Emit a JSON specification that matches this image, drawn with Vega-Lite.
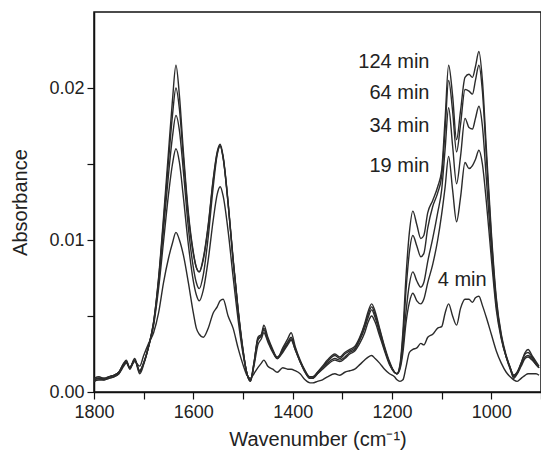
{
  "$schema": "https://vega.github.io/schema/vega-lite/v6.json",
  "width": 447,
  "height": 380,
  "autosize": "none",
  "padding": {"left": 94, "top": 12, "right": 0, "bottom": 60},
  "background": "white",
  "config": {
    "view": {"stroke": "#111", "strokeWidth": 1.5},
    "axis": {
      "grid": false,
      "labelFlush": false,
      "labelOverlap": false,
      "labelFont": "Liberation Sans",
      "titleFont": "Liberation Sans",
      "labelFontSize": 18,
      "titleFontSize": 20,
      "titleFontWeight": "normal",
      "labelColor": "#222",
      "titleColor": "#222",
      "domainColor": "#111",
      "domainWidth": 1.5,
      "tickColor": "#111",
      "tickWidth": 1.2,
      "tickSize": 7
    }
  },
  "resolve": {"axis": {"x": "independent", "y": "independent"}},
  "layer": [
    {
      "data": {
        "values": [
          {"wn":1800,"t124":0.0008,"t64":0.0007,"t34":0.0009,"t19":0.0008,"t4":0.0007},
          {"wn":1790,"t124":0.0009,"t64":0.0008,"t34":0.0010,"t19":0.0009,"t4":0.0008},
          {"wn":1780,"t124":0.0008,"t64":0.0008,"t34":0.0009,"t19":0.0009,"t4":0.0008},
          {"wn":1770,"t124":0.0010,"t64":0.0009,"t34":0.0010,"t19":0.0010,"t4":0.0009},
          {"wn":1760,"t124":0.0011,"t64":0.0010,"t34":0.0011,"t19":0.0011,"t4":0.0010},
          {"wn":1750,"t124":0.0013,"t64":0.0012,"t34":0.0013,"t19":0.0013,"t4":0.0012},
          {"wn":1740,"t124":0.0019,"t64":0.0018,"t34":0.0019,"t19":0.0018,"t4":0.0017},
          {"wn":1735,"t124":0.0021,"t64":0.0020,"t34":0.0020,"t19":0.0020,"t4":0.0019},
          {"wn":1728,"t124":0.0016,"t64":0.0015,"t34":0.0016,"t19":0.0016,"t4":0.0016},
          {"wn":1718,"t124":0.0022,"t64":0.0021,"t34":0.0021,"t19":0.0021,"t4":0.0020},
          {"wn":1708,"t124":0.0013,"t64":0.0012,"t34":0.0014,"t19":0.0014,"t4":0.0017},
          {"wn":1700,"t124":0.0019,"t64":0.0018,"t34":0.0019,"t19":0.0019,"t4":0.0024},
          {"wn":1690,"t124":0.0030,"t64":0.0030,"t34":0.0030,"t19":0.0030,"t4":0.0032},
          {"wn":1680,"t124":0.0046,"t64":0.0046,"t34":0.0045,"t19":0.0044,"t4":0.0039},
          {"wn":1670,"t124":0.0075,"t64":0.0074,"t34":0.0072,"t19":0.0068,"t4":0.0052},
          {"wn":1660,"t124":0.0115,"t64":0.0112,"t34":0.0107,"t19":0.0099,"t4":0.0072},
          {"wn":1650,"t124":0.0158,"t64":0.0152,"t34":0.0143,"t19":0.0130,"t4":0.0088},
          {"wn":1642,"t124":0.0192,"t64":0.0182,"t34":0.0168,"t19":0.0150,"t4":0.0098},
          {"wn":1635,"t124":0.0215,"t64":0.0200,"t34":0.0182,"t19":0.0160,"t4":0.0105},
          {"wn":1628,"t124":0.0195,"t64":0.0186,"t34":0.0172,"t19":0.0151,"t4":0.0100},
          {"wn":1620,"t124":0.0158,"t64":0.0154,"t34":0.0145,"t19":0.0128,"t4":0.0090},
          {"wn":1610,"t124":0.0118,"t64":0.0116,"t34":0.0108,"t19":0.0097,"t4":0.0072},
          {"wn":1600,"t124":0.0092,"t64":0.0091,"t34":0.0082,"t19":0.0073,"t4":0.0052},
          {"wn":1594,"t124":0.0082,"t64":0.0082,"t34":0.0072,"t19":0.0064,"t4":0.0042},
          {"wn":1588,"t124":0.0079,"t64":0.0079,"t34":0.0068,"t19":0.0060,"t4":0.0038},
          {"wn":1580,"t124":0.0088,"t64":0.0087,"t34":0.0077,"t19":0.0067,"t4":0.0036},
          {"wn":1570,"t124":0.0110,"t64":0.0109,"t34":0.0102,"t19":0.0087,"t4":0.0042},
          {"wn":1560,"t124":0.0140,"t64":0.0139,"t34":0.0135,"t19":0.0113,"t4":0.0052},
          {"wn":1552,"t124":0.0158,"t64":0.0157,"t34":0.0156,"t19":0.0130,"t4":0.0056},
          {"wn":1546,"t124":0.0163,"t64":0.0162,"t34":0.0162,"t19":0.0135,"t4":0.0060},
          {"wn":1540,"t124":0.0155,"t64":0.0154,"t34":0.0154,"t19":0.0129,"t4":0.0061},
          {"wn":1530,"t124":0.0125,"t64":0.0124,"t34":0.0124,"t19":0.0106,"t4":0.0050},
          {"wn":1520,"t124":0.0088,"t64":0.0087,"t34":0.0087,"t19":0.0076,"t4":0.0042},
          {"wn":1510,"t124":0.0055,"t64":0.0054,"t34":0.0054,"t19":0.0048,"t4":0.0029},
          {"wn":1500,"t124":0.0028,"t64":0.0027,"t34":0.0027,"t19":0.0025,"t4":0.0018},
          {"wn":1492,"t124":0.0012,"t64":0.0012,"t34":0.0012,"t19":0.0012,"t4":0.0011},
          {"wn":1485,"t124":0.0007,"t64":0.0007,"t34":0.0008,"t19":0.0008,"t4":0.0009},
          {"wn":1478,"t124":0.0018,"t64":0.0019,"t34":0.0019,"t19":0.0017,"t4":0.0012},
          {"wn":1470,"t124":0.0036,"t64":0.0035,"t34":0.0034,"t19":0.0031,"t4":0.0016},
          {"wn":1463,"t124":0.0038,"t64":0.0037,"t34":0.0037,"t19":0.0035,"t4":0.0019},
          {"wn":1458,"t124":0.0044,"t64":0.0042,"t34":0.0041,"t19":0.0039,"t4":0.0021},
          {"wn":1450,"t124":0.0036,"t64":0.0035,"t34":0.0034,"t19":0.0033,"t4":0.0017},
          {"wn":1440,"t124":0.0028,"t64":0.0027,"t34":0.0027,"t19":0.0026,"t4":0.0015},
          {"wn":1431,"t124":0.0022,"t64":0.0022,"t34":0.0023,"t19":0.0022,"t4":0.0013},
          {"wn":1420,"t124":0.0029,"t64":0.0028,"t34":0.0027,"t19":0.0026,"t4":0.0016},
          {"wn":1410,"t124":0.0035,"t64":0.0033,"t34":0.0032,"t19":0.0031,"t4":0.0015},
          {"wn":1403,"t124":0.0039,"t64":0.0036,"t34":0.0035,"t19":0.0034,"t4":0.0015},
          {"wn":1395,"t124":0.0030,"t64":0.0029,"t34":0.0028,"t19":0.0028,"t4":0.0014},
          {"wn":1385,"t124":0.0021,"t64":0.0020,"t34":0.0020,"t19":0.0020,"t4":0.0012},
          {"wn":1375,"t124":0.0014,"t64":0.0013,"t34":0.0014,"t19":0.0013,"t4":0.0008},
          {"wn":1365,"t124":0.0009,"t64":0.0009,"t34":0.0010,"t19":0.0009,"t4":0.0006},
          {"wn":1360,"t124":0.0009,"t64":0.0009,"t34":0.0010,"t19":0.0009,"t4":0.0006},
          {"wn":1350,"t124":0.0013,"t64":0.0012,"t34":0.0013,"t19":0.0012,"t4":0.0007},
          {"wn":1340,"t124":0.0017,"t64":0.0016,"t34":0.0016,"t19":0.0015,"t4":0.0008},
          {"wn":1330,"t124":0.0021,"t64":0.0020,"t34":0.0019,"t19":0.0018,"t4":0.0010},
          {"wn":1315,"t124":0.0025,"t64":0.0024,"t34":0.0022,"t19":0.0021,"t4":0.0012},
          {"wn":1305,"t124":0.0023,"t64":0.0022,"t34":0.0021,"t19":0.0020,"t4":0.0011},
          {"wn":1295,"t124":0.0026,"t64":0.0025,"t34":0.0023,"t19":0.0022,"t4":0.0013},
          {"wn":1285,"t124":0.0028,"t64":0.0027,"t34":0.0026,"t19":0.0025,"t4":0.0014},
          {"wn":1275,"t124":0.0030,"t64":0.0029,"t34":0.0028,"t19":0.0027,"t4":0.0015},
          {"wn":1265,"t124":0.0036,"t64":0.0035,"t34":0.0034,"t19":0.0032,"t4":0.0018},
          {"wn":1255,"t124":0.0045,"t64":0.0044,"t34":0.0042,"t19":0.0039,"t4":0.0021},
          {"wn":1248,"t124":0.0053,"t64":0.0051,"t34":0.0049,"t19":0.0046,"t4":0.0023},
          {"wn":1241,"t124":0.0058,"t64":0.0056,"t34":0.0054,"t19":0.0050,"t4":0.0024},
          {"wn":1234,"t124":0.0053,"t64":0.0051,"t34":0.0049,"t19":0.0046,"t4":0.0022},
          {"wn":1225,"t124":0.0042,"t64":0.0041,"t34":0.0039,"t19":0.0037,"t4":0.0019},
          {"wn":1215,"t124":0.0030,"t64":0.0029,"t34":0.0028,"t19":0.0027,"t4":0.0015},
          {"wn":1205,"t124":0.0020,"t64":0.0019,"t34":0.0019,"t19":0.0018,"t4":0.0012},
          {"wn":1195,"t124":0.0013,"t64":0.0013,"t34":0.0013,"t19":0.0013,"t4":0.0010},
          {"wn":1190,"t124":0.0012,"t64":0.0012,"t34":0.0012,"t19":0.0012,"t4":0.0008},
          {"wn":1184,"t124":0.0018,"t64":0.0017,"t34":0.0016,"t19":0.0015,"t4":0.0007},
          {"wn":1178,"t124":0.0040,"t64":0.0036,"t34":0.0030,"t19":0.0026,"t4":0.0008},
          {"wn":1172,"t124":0.0075,"t64":0.0066,"t34":0.0052,"t19":0.0045,"t4":0.0016},
          {"wn":1165,"t124":0.0105,"t64":0.0092,"t34":0.0071,"t19":0.0059,"t4":0.0026},
          {"wn":1158,"t124":0.0119,"t64":0.0103,"t34":0.0079,"t19":0.0065,"t4":0.0028},
          {"wn":1150,"t124":0.0110,"t64":0.0096,"t34":0.0073,"t19":0.0060,"t4":0.0029},
          {"wn":1142,"t124":0.0101,"t64":0.0089,"t34":0.0069,"t19":0.0058,"t4":0.0032},
          {"wn":1136,"t124":0.0103,"t64":0.0091,"t34":0.0072,"t19":0.0061,"t4":0.0031},
          {"wn":1128,"t124":0.0118,"t64":0.0108,"t34":0.0086,"t19":0.0072,"t4":0.0036},
          {"wn":1118,"t124":0.0126,"t64":0.0122,"t34":0.0101,"t19":0.0084,"t4":0.0038},
          {"wn":1108,"t124":0.0135,"t64":0.0131,"t34":0.0118,"t19":0.0100,"t4":0.0042},
          {"wn":1100,"t124":0.0146,"t64":0.0142,"t34":0.0133,"t19":0.0117,"t4":0.0043},
          {"wn":1093,"t124":0.0180,"t64":0.0173,"t34":0.0160,"t19":0.0135,"t4":0.0052},
          {"wn":1086,"t124":0.0215,"t64":0.0205,"t34":0.0187,"t19":0.0155,"t4":0.0058},
          {"wn":1078,"t124":0.0195,"t64":0.0185,"t34":0.0162,"t19":0.0133,"t4":0.0050},
          {"wn":1070,"t124":0.0166,"t64":0.0158,"t34":0.0137,"t19":0.0112,"t4":0.0044},
          {"wn":1062,"t124":0.0185,"t64":0.0176,"t34":0.0155,"t19":0.0128,"t4":0.0055},
          {"wn":1053,"t124":0.0207,"t64":0.0199,"t34":0.0180,"t19":0.0151,"t4":0.0061},
          {"wn":1045,"t124":0.0209,"t64":0.0198,"t34":0.0174,"t19":0.0147,"t4":0.0061},
          {"wn":1038,"t124":0.0207,"t64":0.0196,"t34":0.0173,"t19":0.0149,"t4":0.0059},
          {"wn":1032,"t124":0.0214,"t64":0.0205,"t34":0.0180,"t19":0.0153,"t4":0.0062},
          {"wn":1025,"t124":0.0224,"t64":0.0215,"t34":0.0188,"t19":0.0159,"t4":0.0063},
          {"wn":1018,"t124":0.0205,"t64":0.0198,"t34":0.0175,"t19":0.0150,"t4":0.0057},
          {"wn":1010,"t124":0.0160,"t64":0.0155,"t34":0.0140,"t19":0.0125,"t4":0.0049},
          {"wn":1000,"t124":0.0105,"t64":0.0102,"t34":0.0095,"t19":0.0088,"t4":0.0038},
          {"wn":990,"t124":0.0062,"t64":0.0060,"t34":0.0057,"t19":0.0054,"t4":0.0027},
          {"wn":980,"t124":0.0038,"t64":0.0037,"t34":0.0036,"t19":0.0035,"t4":0.0019},
          {"wn":970,"t124":0.0024,"t64":0.0023,"t34":0.0023,"t19":0.0023,"t4":0.0013},
          {"wn":962,"t124":0.0016,"t64":0.0015,"t34":0.0016,"t19":0.0016,"t4":0.0010},
          {"wn":955,"t124":0.0009,"t64":0.0010,"t34":0.0011,"t19":0.0011,"t4":0.0008},
          {"wn":948,"t124":0.0012,"t64":0.0013,"t34":0.0013,"t19":0.0012,"t4":0.0007},
          {"wn":940,"t124":0.0019,"t64":0.0019,"t34":0.0018,"t19":0.0017,"t4":0.0009},
          {"wn":932,"t124":0.0026,"t64":0.0025,"t34":0.0023,"t19":0.0022,"t4":0.0011},
          {"wn":926,"t124":0.0028,"t64":0.0026,"t34":0.0024,"t19":0.0023,"t4":0.0012},
          {"wn":918,"t124":0.0024,"t64":0.0023,"t34":0.0022,"t19":0.0021,"t4":0.0012},
          {"wn":910,"t124":0.0020,"t64":0.0019,"t34":0.0018,"t19":0.0018,"t4":0.0012},
          {"wn":904,"t124":0.0017,"t64":0.0016,"t34":0.0016,"t19":0.0016,"t4":0.0011}
        ]
      },
      "transform": [
        {"fold": ["t124", "t64", "t34", "t19", "t4"], "as": ["series", "absorbance"]}
      ],
      "mark": {"type": "line", "stroke": "#2b2b2b", "strokeWidth": 1.4, "clip": true, "interpolate": "monotone"},
      "encoding": {
        "x": {
          "field": "wn", "type": "quantitative",
          "scale": {"domain": [900, 1800], "reverse": true, "nice": false, "zero": false},
          "axis": {"title": "Wavenumber (cm⁻¹)", "values": [1800, 1600, 1400, 1200, 1000], "format": "d", "orient": "bottom", "labelPadding": 4, "titlePadding": 8}
        },
        "y": {
          "field": "absorbance", "type": "quantitative",
          "scale": {"domain": [0, 0.025], "nice": false, "zero": false},
          "axis": {"title": "Absorbance", "values": [0, 0.01, 0.02], "format": ".2f", "orient": "left", "labelPadding": 3, "titlePadding": 18}
        },
        "detail": {"field": "series", "type": "nominal"}
      }
    },
    {
      "data": {
        "values": [
          {"wn": 1124.6, "abs": 0.02173, "label": "124 min"},
          {"wn": 1124.6, "abs": 0.01965, "label": "64 min"},
          {"wn": 1124.6, "abs": 0.01750, "label": "34 min"},
          {"wn": 1124.6, "abs": 0.01489, "label": "19 min"}
        ]
      },
      "mark": {"type": "text", "align": "right", "baseline": "middle", "font": "Liberation Sans", "fontSize": 20, "color": "#222"},
      "encoding": {
        "x": {"field": "wn", "type": "quantitative",
          "scale": {"domain": [900, 1800], "reverse": true, "nice": false, "zero": false},
          "axis": {"values": [1700, 1500, 1300, 1100, 900], "labels": false, "title": null, "domain": false, "orient": "bottom", "tickSize": 7}},
        "y": {"field": "abs", "type": "quantitative",
          "scale": {"domain": [0, 0.025], "nice": false, "zero": false},
          "axis": {"values": [0.005, 0.015], "labels": false, "title": null, "domain": false, "orient": "left", "tickSize": 7}},
        "text": {"field": "label"}
      }
    },
    {
      "data": {"values": [{"wn": 1058.6, "abs": 0.00737, "label": "4 min"}]},
      "mark": {"type": "text", "align": "center", "baseline": "middle", "font": "Liberation Sans", "fontSize": 20, "color": "#222"},
      "encoding": {
        "x": {"field": "wn", "type": "quantitative",
          "scale": {"domain": [900, 1800], "reverse": true, "nice": false, "zero": false}, "axis": null},
        "y": {"field": "abs", "type": "quantitative",
          "scale": {"domain": [0, 0.025], "nice": false, "zero": false}, "axis": null},
        "text": {"field": "label"}
      }
    }
  ]
}
